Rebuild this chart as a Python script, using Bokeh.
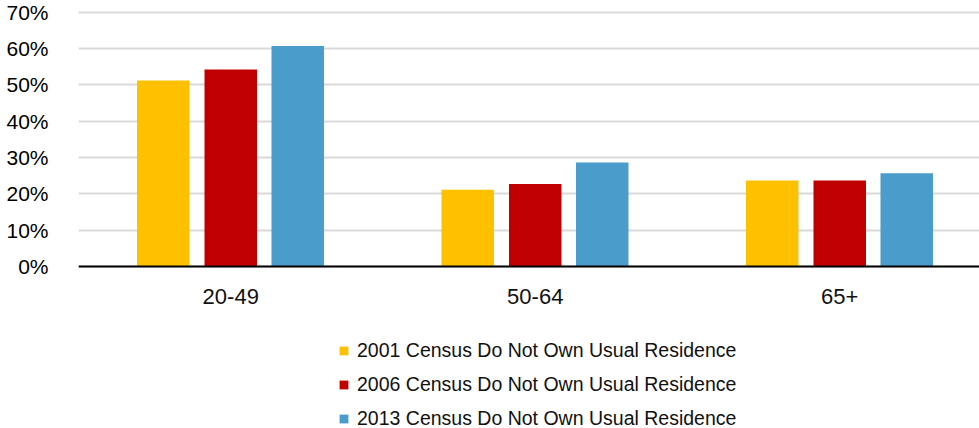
from bokeh.plotting import figure
from bokeh.models import Range1d, FixedTicker, Legend, LegendItem, ColumnDataSource
from bokeh.transform import dodge
from bokeh.embed import file_html
from bokeh.resources import INLINE

# ---- data ----
categories = ["20-49", "50-64", "65+"]
series_names = [
    "2001 Census Do Not Own Usual Residence",
    "2006 Census Do Not Own Usual Residence",
    "2013 Census Do Not Own Usual Residence",
]
y2001 = [51.2, 21.1, 23.7]
y2006 = [54.2, 22.7, 23.7]
y2013 = [60.7, 28.6, 25.7]
y_ticks = [0, 10, 20, 30, 40, 50, 60, 70]
y_tick_labels = ["0%", "10%", "20%", "30%", "40%", "50%", "60%", "70%"]

colors = ["#FFC000", "#C00000", "#4A9CCB"]

pos = list(range(1, len(categories) + 1))
src = ColumnDataSource(dict(pos=pos, y2001=y2001, y2006=y2006, y2013=y2013))

p = figure(width=979, height=428, output_backend="svg", toolbar_location=None,
           x_range=Range1d(0.5, 3.459), y_range=Range1d(-44.6, 70.47),
           min_border_left=78, min_border_right=0, min_border_top=10,
           min_border_bottom=0)
p.outline_line_color = None
p.background_fill_color = "white"
p.border_fill_color = "white"

offsets = [-0.2217, 0.0, 0.22]
bar_w = 0.1724
renderers = []
for col, off, c in zip(["y2001", "y2006", "y2013"], offsets, colors):
    r = p.vbar(x=dodge("pos", off), top=col, width=bar_w, bottom=0, source=src,
               fill_color=c, line_color=None)
    renderers.append(r)

# grid
p.xgrid.visible = False
p.ygrid.ticker = FixedTicker(ticks=y_ticks)
p.ygrid.grid_line_color = "#D9D9D9"
p.ygrid.grid_line_width = 2

# y axis
ya = p.yaxis[0]
ya.ticker = FixedTicker(ticks=y_ticks)
ya.major_label_overrides = dict(zip(y_ticks, y_tick_labels))
ya.axis_line_color = None
ya.major_tick_line_color = None
ya.minor_tick_line_color = None
ya.major_label_standoff = 24
ya.major_label_text_font = "Liberation Sans"
ya.major_label_text_font_size = "21px"
ya.major_label_text_color = "#000000"

# x axis, drawn at y = 0
xa = p.xaxis[0]
xa.fixed_location = 0
xa.ticker = FixedTicker(ticks=pos)
xa.major_label_overrides = dict(zip(pos, categories))
xa.axis_line_color = "#000000"
xa.axis_line_width = 2
xa.major_tick_line_color = None
xa.minor_tick_line_color = None
xa.major_label_standoff = 17
xa.major_label_text_font = "Liberation Sans"
xa.major_label_text_font_size = "22px"
xa.major_label_text_color = "#111111"

# legend (screen units from the frame's bottom-left)
items = [LegendItem(label=n, renderers=[r]) for n, r in zip(series_names, renderers)]
legend = Legend(items=items, location=(260, -2), orientation="vertical",
                glyph_width=11, glyph_height=11, label_standoff=8, spacing=11,
                padding=0, margin=0, border_line_color=None,
                background_fill_alpha=0, label_height=22,
                label_text_font="Liberation Sans", label_text_font_size="19.5px",
                label_text_color="#111111")
p.add_layout(legend)

open("out.html", "w").write(file_html(p, INLINE))
